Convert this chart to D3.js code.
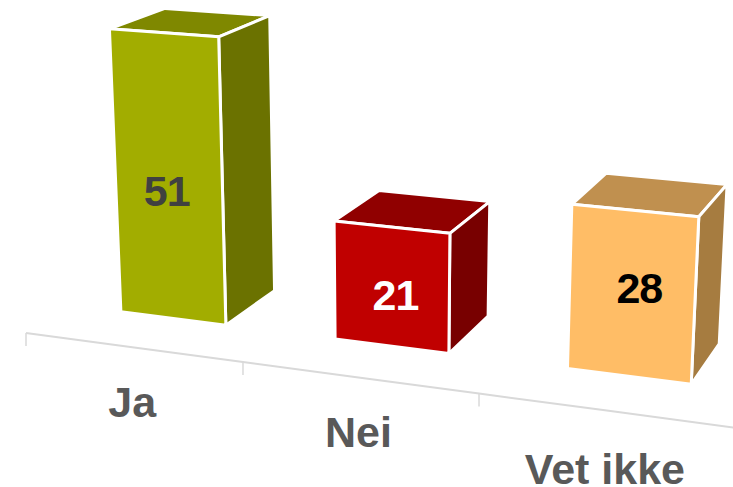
<!DOCTYPE html>
<html>
<head>
<meta charset="utf-8">
<script src="https://cdn.jsdelivr.net/npm/d3@7"></script>
<style>
html,body{margin:0;padding:0;background:#fff;overflow:hidden}
svg{display:block;font-family:"Liberation Sans",Arial,sans-serif;font-weight:bold}
</style>
</head>
<body>
<svg id="chart" width="733" height="487"></svg>
<script>
const categories = ["Ja", "Nei", "Vet ikke"];
const values = [51, 21, 28];
const frontColors = ["#A2AD00", "#C00000", "#FFBD66"];
const topColors = ["#7F8800", "#900000", "#C0904F"];
const sideColors = ["#6B7200", "#780000", "#A67C40"];
const valueLabelColors = ["#404040", "#FFFFFF", "#000000"];
const labelNudgeX = [-2, 4, 8];
const labelNudgeY = [-2, 2, -15];
const categoryDrop = [70, 70, 74];

const svg = d3.select("#chart");

// Category position along the floor, in band units, and value as lift towards a vanishing point.
const xBand = d3.scaleBand().domain(categories).range([0, 3]).paddingInner(0.5).paddingOuter(0.25).align(0.48);
const lift = d3.scaleLinear().domain([0, 100]).range([0, 0.082]);
const depthFront = 0.77, depthBack = 1.77;

// Projective camera: floor axis plus depth and vertical vanishing points.
const camera = {
  origin: [26, 333], uStep: [207.2, 14.4], uPersp: -0.0403,
  depthK: 0.052, depthVP: [1220, -380], liftVP: [392, 7000]
};
function project(u, w, t) {
  const c = camera, kw = c.depthK * w;
  const d = 1 + c.uPersp * u + kw - t;
  const xh = c.origin[0] + c.uStep[0] * u + kw * c.depthVP[0] - t * c.liftVP[0];
  const yh = c.origin[1] + c.uStep[1] * u + kw * c.depthVP[1] - t * c.liftVP[1];
  return [xh / d, yh / d];
}
const poly = d3.line();

// Axis
const axisG = svg.append("g");
axisG.append("path")
  .attr("d", poly(d3.range(0, 3.01, 0.5).map(u => project(u, 0, 0))))
  .attr("fill", "none").attr("stroke", "#D9D9D9").attr("stroke-width", 2);
[0, 1, 2].forEach(u => {
  const p = project(u, 0, 0);
  axisG.append("line").attr("x1", p[0]).attr("x2", p[0]).attr("y1", p[1]).attr("y2", p[1] + 13)
    .attr("stroke", "#D9D9D9").attr("stroke-width", 1.5);
});

// Bars
categories.forEach((cat, i) => {
  const u0 = xBand(cat), u1 = u0 + xBand.bandwidth(), t = lift(values[i]);
  const g = svg.append("g");
  const face = (pts, fill) => g.append("path")
    .attr("d", poly(pts.map(p => project(p[0], p[1], p[2]))) + "Z")
    .attr("fill", fill).attr("stroke", "#fff").attr("stroke-width", 3).attr("stroke-linejoin", "round");
  face([[u0, depthFront, t], [u1, depthFront, t], [u1, depthBack, t], [u0, depthBack, t]], topColors[i]);
  face([[u1, depthFront, 0], [u1, depthFront, t], [u1, depthBack, t], [u1, depthBack, 0]], sideColors[i]);
  face([[u0, depthFront, 0], [u1, depthFront, 0], [u1, depthFront, t], [u0, depthFront, t]], frontColors[i]);

  const c = project((u0 + u1) / 2, depthFront, t * 0.45);
  g.append("text").attr("x", c[0] + labelNudgeX[i]).attr("y", c[1] + labelNudgeY[i])
    .attr("text-anchor", "middle").attr("dominant-baseline", "central")
    .attr("font-size", 43).attr("letter-spacing", -1).attr("fill", valueLabelColors[i]).text(values[i]);

  const a = project(i + 0.5, 0, 0);
  svg.append("text").attr("x", a[0]).attr("y", a[1] + categoryDrop[i])
    .attr("text-anchor", "middle").attr("font-size", 43).attr("fill", "#595959").text(cat);
});
</script>
</body>
</html>
